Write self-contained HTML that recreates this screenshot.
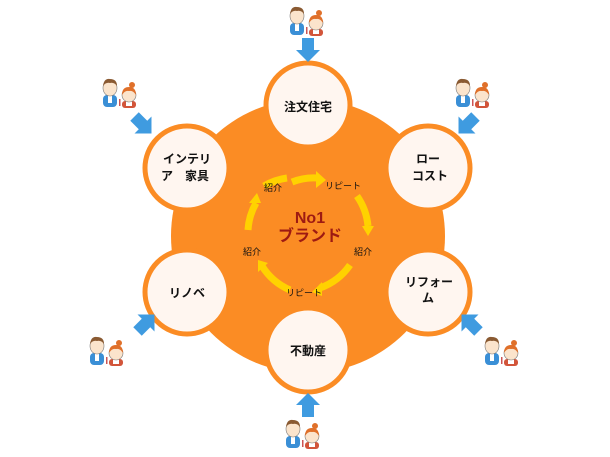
<!DOCTYPE html>
<html><head><meta charset="utf-8"><style>
html,body{margin:0;padding:0;background:#fff;}
svg{display:block}
text{font-family:"Liberation Sans","Noto Sans CJK JP",sans-serif;}
</style></head><body>
<svg width="610" height="457" viewBox="0 0 610 457" xmlns="http://www.w3.org/2000/svg">
<defs>
<g id="ppl">
  <!-- man -->
  <rect x="2" y="18" width="14" height="12" rx="4" fill="#3a8fd6"/>
  <rect x="7" y="18" width="4" height="8" fill="#fff"/>
  <ellipse cx="9" cy="11" rx="7" ry="8" fill="#fbe4cc" stroke="#777" stroke-width="0.6"/>
  <path d="M2 9 Q3 1 9 2 Q16 2 16 9 Q13 5 9 6 Q5 5 2 9Z" fill="#8a5a32"/>
  <!-- woman -->
  <rect x="21" y="24" width="14" height="7" rx="3" fill="#d2553a"/>
  <rect x="25" y="24" width="6" height="5" fill="#fff"/>
  <ellipse cx="28" cy="18" rx="7" ry="7" fill="#fbe4cc" stroke="#777" stroke-width="0.6"/>
  <path d="M21 18 Q21 10 28 10 Q35 10 35 18 Q32 13 28 14 Q24 13 21 18Z" fill="#e0702a"/>
  <circle cx="31" cy="8" r="3" fill="#e0702a"/>
  <rect x="18" y="22" width="1.5" height="7" fill="#c55"/>
</g>
<g id="arr">
  <polygon points="-6,-12 6,-12 6,0 12,0 0,12 -12,0 -6,0" fill="#3f9be0"/>
</g>
</defs>

<circle cx="308" cy="236" r="137" fill="#fb8c24"/>

<!-- yellow arrow ring -->
<g fill="none" stroke="#ffd200" stroke-width="7">
  <path d="M264 186 A62 62 0 0 1 287 178"/>
  <path d="M292 182 A58 58 0 0 1 318 178"/>
  <path d="M357 196 A62 62 0 0 1 368 226"/>
  <path d="M350 265 A62 62 0 0 1 320 288"/>
  <path d="M290 290 A62 62 0 0 1 262 266"/>
  <path d="M248 230 A62 62 0 0 1 256 203"/>
</g>
<g fill="#ffd200">
  <polygon points="316,171 326,180 316,188"/>
  <polygon points="362,226 374,226 368,236"/>
  <polygon points="322,282 322,296 312,292"/>
  <polygon points="258,272 268,263 258,260"/>
  <polygon points="249,203 261,203 257,193"/>
</g>

<!-- small circles -->
<g fill="#fff6f0" stroke="#fb8c24" stroke-width="5">
  <circle cx="308" cy="105" r="42"/>
  <circle cx="428" cy="168" r="42"/>
  <circle cx="428" cy="292" r="42"/>
  <circle cx="308" cy="350" r="42"/>
  <circle cx="187" cy="292" r="42"/>
  <circle cx="187" cy="168" r="42"/>
</g>

<g font-size="12" font-weight="bold" fill="#111" text-anchor="middle">
  <text x="308" y="111">注文住宅</text>
  <text x="428" y="163">ロー</text>
  <text x="430" y="180">コスト</text>
  <text x="429" y="286">リフォー</text>
  <text x="428" y="302">ム</text>
  <text x="308" y="355">不動産</text>
  <text x="187" y="297">リノベ</text>
  <text x="187" y="163">インテリ</text>
  <text x="185" y="180">ア　家具</text>
</g>

<g font-size="9" fill="#111" text-anchor="middle">
  <text x="273" y="191">紹介</text>
  <text x="343" y="189">リピート</text>
  <text x="363" y="255">紹介</text>
  <text x="252" y="255">紹介</text>
  <text x="304" y="296">リピート</text>
</g>
<g font-size="16" font-weight="bold" fill="#9e1a12" text-anchor="middle">
  <text x="310" y="223">No1</text>
  <text x="310" y="241">ブランド</text>
</g>

<!-- people -->
<use href="#ppl" x="288" y="5"/>
<use href="#ppl" x="101" y="77"/>
<use href="#ppl" x="454" y="77"/>
<use href="#ppl" x="88" y="335"/>
<use href="#ppl" x="483" y="335"/>
<use href="#ppl" x="284" y="418"/>

<!-- arrows -->
<use href="#arr" transform="translate(308,50)"/>
<use href="#arr" transform="translate(143,125) rotate(-45)"/>
<use href="#arr" transform="translate(467,125) rotate(45)"/>
<use href="#arr" transform="translate(146,323) rotate(-135)"/>
<use href="#arr" transform="translate(470,323) rotate(135)"/>
<use href="#arr" transform="translate(308,405) rotate(180)"/>
</svg>
</body></html>
